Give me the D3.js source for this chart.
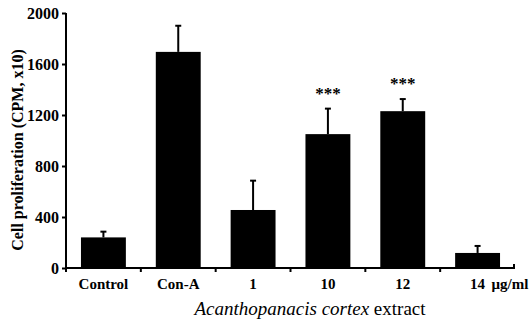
<!DOCTYPE html>
<html><head><meta charset="utf-8">
<script src="https://cdn.jsdelivr.net/npm/d3@7/dist/d3.min.js"></script>
<style>body{margin:0;background:#fff}svg{display:block}</style>
</head><body>
<svg id="c" width="532" height="321"></svg>
<script>
const categories = ["Control", "Con-A", "1", "10", "12", "14"];
const values = [240, 1695, 455, 1050, 1230, 118];
const errors = [45, 205, 230, 200, 95, 55];
const significance = ["", "", "", "***", "***", ""];
const yTicks = [0, 400, 800, 1200, 1600, 2000];
const unitLabel = "μg/ml";
const yTitle = "Cell proliferation (CPM, x10)";

const svg = d3.select("#c");
const serif = "'Liberation Serif','Times New Roman',serif";
const x = d3.scaleBand().domain(categories).range([66, 515]).paddingInner(0.4).paddingOuter(0.2);
const y = d3.scaleLinear().domain([0, 2000]).range([268, 13]);

// bars
svg.selectAll("rect.bar").data(categories).enter().append("rect")
  .attr("x", d => x(d)).attr("width", x.bandwidth())
  .attr("y", (d, i) => y(values[i])).attr("height", (d, i) => y(0) - y(values[i]))
  .attr("fill", "#000");

// error bars (upper only)
const eg = svg.append("g").attr("stroke", "#000").attr("stroke-width", 2);
categories.forEach((c, i) => {
  const cx = x(c) + x.bandwidth() / 2;
  eg.append("line").attr("x1", cx).attr("x2", cx).attr("y1", y(values[i])).attr("y2", y(values[i] + errors[i]));
  eg.append("line").attr("x1", cx - 3).attr("x2", cx + 3).attr("y1", y(values[i] + errors[i])).attr("y2", y(values[i] + errors[i]));
});

// significance stars
categories.forEach((c, i) => {
  if (!significance[i]) return;
  svg.append("text").attr("x", x(c) + x.bandwidth() / 2).attr("y", y(values[i] + errors[i]) - 10)
    .attr("text-anchor", "middle").attr("font-family", serif).attr("font-weight", "bold")
    .attr("font-size", 17).text(significance[i]);
});

// y axis
const ya = svg.append("g").attr("transform", "translate(66,0)")
  .call(d3.axisLeft(y).tickValues(yTicks).tickSize(4).tickPadding(3).tickFormat(d3.format("d")));
ya.select(".domain").attr("stroke-width", 2).attr("d", `M0,${y(2000)}V${y(0)}`);
ya.selectAll(".tick line").attr("stroke-width", 2);
ya.selectAll("text").attr("font-family", serif).attr("font-weight", "bold").attr("font-size", 16).attr("fill", "#000");

// x axis
const xa = svg.append("g").attr("transform", `translate(0,${y(0)})`)
  .call(d3.axisBottom(x).tickSize(0).tickPadding(10));
xa.select(".domain").attr("stroke-width", 2).attr("d", "M66,0H515");
xa.selectAll("text").attr("font-family", serif).attr("font-weight", "bold").attr("font-size", 15).attr("fill", "#000");
// boundary ticks
const step = x.step();
const bounds = d3.range(0, categories.length).map(k => 66 + k * step);
xa.selectAll("line.bt").data(bounds).enter().append("line").attr("class", "bt")
  .attr("x1", d => d).attr("x2", d => d).attr("y1", 0).attr("y2", 4)
  .attr("stroke", "#000").attr("stroke-width", 2);
xa.append("line").attr("x1", 514).attr("x2", 514).attr("y1", 0).attr("y2", -4).attr("stroke", "#000").attr("stroke-width", 2);

// unit after last label
const last = categories[categories.length - 1];
svg.append("text").attr("x", x(last) + x.bandwidth() / 2 + 14).attr("y", y(0) + 10)
  .attr("dy", "0.71em").attr("font-family", serif).attr("font-weight", "bold").attr("font-size", 15).text(unitLabel);

// y title
svg.append("text").attr("transform", "translate(23,150) rotate(-90)").attr("text-anchor", "middle")
  .attr("font-family", serif).attr("font-weight", "bold").attr("font-size", 16).text(yTitle);

// x title
const xt = svg.append("text").attr("x", 310).attr("y", 315).attr("text-anchor", "middle")
  .attr("font-family", serif).attr("font-size", 19);
xt.append("tspan").attr("font-style", "italic").text("Acanthopanacis cortex ");
xt.append("tspan").text("extract");
</script>
</body></html>
